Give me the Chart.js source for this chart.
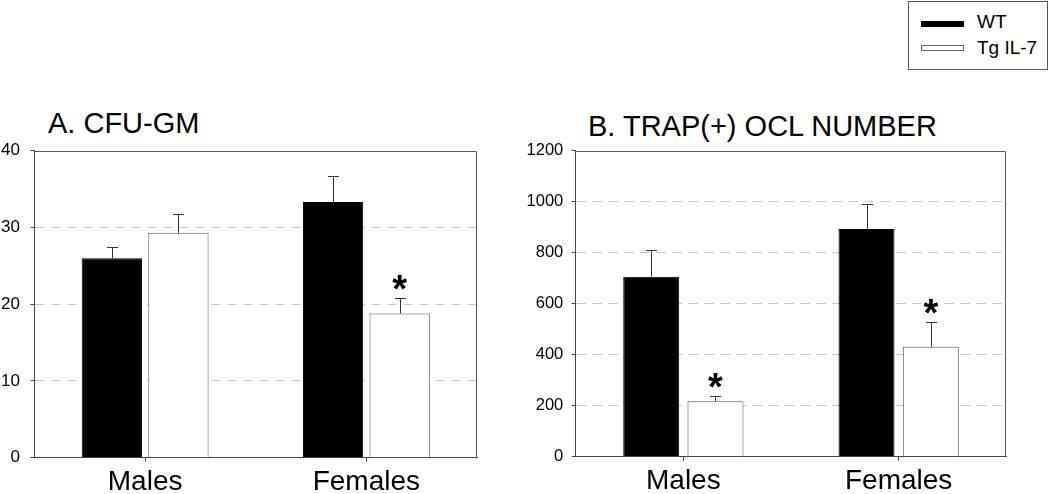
<!DOCTYPE html>
<html><head><meta charset="utf-8">
<script src="https://cdn.jsdelivr.net/npm/chart.js@4.4.1/dist/chart.umd.min.js"></script>
<style>
html,body{margin:0;padding:0;background:#fff;width:1050px;height:494px;overflow:hidden;font-family:"Liberation Sans",Arial,sans-serif;color:#000;}
.abs{position:absolute;white-space:nowrap;}
.title{font-size:29px;line-height:29px;}
.ltxt{font-size:19px;line-height:19px;}
canvas{position:absolute;}
</style></head>
<body>
<div class="abs title" style="left:48px;top:108.8px;">A. CFU-GM</div>
<div class="abs title" style="left:588px;top:111.5px;">B. TRAP(+) OCL NUMBER</div>
<div class="abs" style="left:908px;top:1px;width:140px;height:69px;box-sizing:border-box;border:1px solid #555;"></div>
<div class="abs" style="left:921px;top:21px;width:43px;height:6px;background:#000;"></div>
<div class="abs" style="left:921px;top:45px;width:43px;height:6px;box-sizing:border-box;border:1px solid #666;background:#fff;"></div>
<div class="abs ltxt" id="lg0" style="left:977px;top:12px;"></div>
<div class="abs ltxt" id="lg1" style="left:977px;top:38px;"></div>
<canvas id="cA" width="490" height="364" style="left:0px;top:130px;width:490px;height:364px;"></canvas>
<canvas id="cB" width="530" height="364" style="left:520px;top:130px;width:530px;height:364px;"></canvas>
<script>
// ---- data ----
const categories = ['Males', 'Females'];
const seriesNames = ['WT', 'Tg IL-7'];

const cfuTicks = [0, 10, 20, 30, 40];
const cfuWT = [26.0, 33.3];
const cfuWTErr = [1.5, 3.35];
const cfuTg = [29.3, 18.8];
const cfuTgErr = [2.45, 1.95];
const cfuTgSig = [false, true];

const oclTicks = [0, 200, 400, 600, 800, 1000, 1200];
const oclWT = [706, 893];
const oclWTErr = [103, 97];
const oclTg = [217, 431];
const oclTgErr = [22, 98];
const oclTgSig = [true, true];

document.getElementById('lg0').textContent = seriesNames[0];
document.getElementById('lg1').textContent = seriesNames[1];

const FONT = '"Liberation Sans", Arial, sans-serif';

const errorBarPlugin = {
  id: 'errorBars',
  afterDatasetsDraw(chart) {
    const ctx = chart.ctx, ys = chart.scales.y;
    chart.data.datasets.forEach((ds, di) => {
      const meta = chart.getDatasetMeta(di);
      meta.data.forEach((bar, i) => {
        const v = ds.data[i], e = ds.errors[i];
        const yTop = Math.round(ys.getPixelForValue(v + e)) + 0.5;
        const yBar = ys.getPixelForValue(v);
        const x = Math.round(bar.x) + 0.5;
        ctx.save();
        ctx.strokeStyle = '#333';
        ctx.lineWidth = 1;
        ctx.beginPath();
        ctx.moveTo(x, yBar);
        ctx.lineTo(x, yTop);
        ctx.moveTo(x - 5.5, yTop);
        ctx.lineTo(x + 5.5, yTop);
        ctx.stroke();
        if (ds.sig && ds.sig[i]) {
          ctx.font = 'bold 38px ' + FONT;
          ctx.textAlign = 'center';
          ctx.textBaseline = 'alphabetic';
          ctx.fillStyle = '#000';
          ctx.fillText('*', bar.x, yTop + 3);
        }
        ctx.restore();
      });
    });
  }
};

const framePlugin = {
  id: 'frame',
  afterDatasetsDraw(chart) {
    const a = chart.chartArea, ctx = chart.ctx;
    ctx.save();
    ctx.strokeStyle = '#555';
    ctx.lineWidth = 1;
    ctx.beginPath();
    const t = Math.round(a.top) + 0.5, r = Math.round(a.right) - 0.5;
    ctx.moveTo(a.left, t); ctx.lineTo(r, t); ctx.lineTo(r, a.bottom);
    ctx.stroke();
    ctx.restore();
  }
};

function makeChart(id, cfg) {
  const max = cfg.ticks[cfg.ticks.length - 1];
  return new Chart(document.getElementById(id), {
    type: 'bar',
    data: {
      labels: categories,
      datasets: [
        { label: seriesNames[0], data: cfg.wt, errors: cfg.wtErr, sig: null,
          backgroundColor: '#000', borderColor: '#000', borderWidth: 1,
          categoryPercentage: cfg.cp, barPercentage: cfg.bp },
        { label: seriesNames[1], data: cfg.tg, errors: cfg.tgErr, sig: cfg.sig,
          backgroundColor: '#fff', borderColor: '#555', borderWidth: 1,
          categoryPercentage: cfg.cp, barPercentage: cfg.bp }
      ]
    },
    options: {
      responsive: false,
      animation: false,
      devicePixelRatio: 1,
      layout: { padding: cfg.pad },
      plugins: { legend: { display: false }, tooltip: { enabled: false }, title: { display: false } },
      scales: {
        x: {
          offset: true,
          grid: { display: true, drawOnChartArea: false, offset: false, tickLength: 4, tickColor: '#444' },
          border: { color: '#444', width: 1 },
          ticks: { color: '#000', font: { family: FONT, size: 28 }, padding: 4, maxRotation: 0 },
          afterFit: s => { s.height = cfg.xh; }
        },
        y: {
          min: 0, max: max,
          afterBuildTicks: s => { s.ticks = cfg.ticks.map(v => ({ value: v })); },
          grid: {
            color: c => (c.tick && (c.tick.value === 0 || c.tick.value === max)) ? 'rgba(0,0,0,0)' : '#c8c8c8',
            lineWidth: 1, tickLength: 4, tickColor: '#444', tickBorderDash: []
          },
          border: { color: '#444', width: 1, dash: [10, 6] },
          ticks: { color: '#000', font: { family: FONT, size: cfg.yfs }, padding: cfg.ypad,
                   callback: v => String(v) },
          afterFit: s => { s.width = cfg.yw; }
        }
      }
    },
    plugins: [errorBarPlugin, framePlugin]
  });
}

makeChart('cA', {
  ticks: cfuTicks, wt: cfuWT, wtErr: cfuWTErr, tg: cfuTg, tgErr: cfuTgErr, sig: cfuTgSig,
  cp: 0.602, bp: 0.905, pad: { left: 0, right: 13, top: 16.7, bottom: 0 },
  xh: 36.3, yw: 34.5, yfs: 17, ypad: 10.5
});
makeChart('cB', {
  ticks: oclTicks, wt: oclWT, wtErr: oclWTErr, tg: oclTg, tgErr: oclTgErr, sig: oclTgSig,
  cp: 0.597, bp: 0.871, pad: { left: 0, right: 43.7, top: 20.7, bottom: 0 },
  xh: 37.3, yw: 55.7, yfs: 16.5, ypad: 8.4
});
</script>
</body></html>
